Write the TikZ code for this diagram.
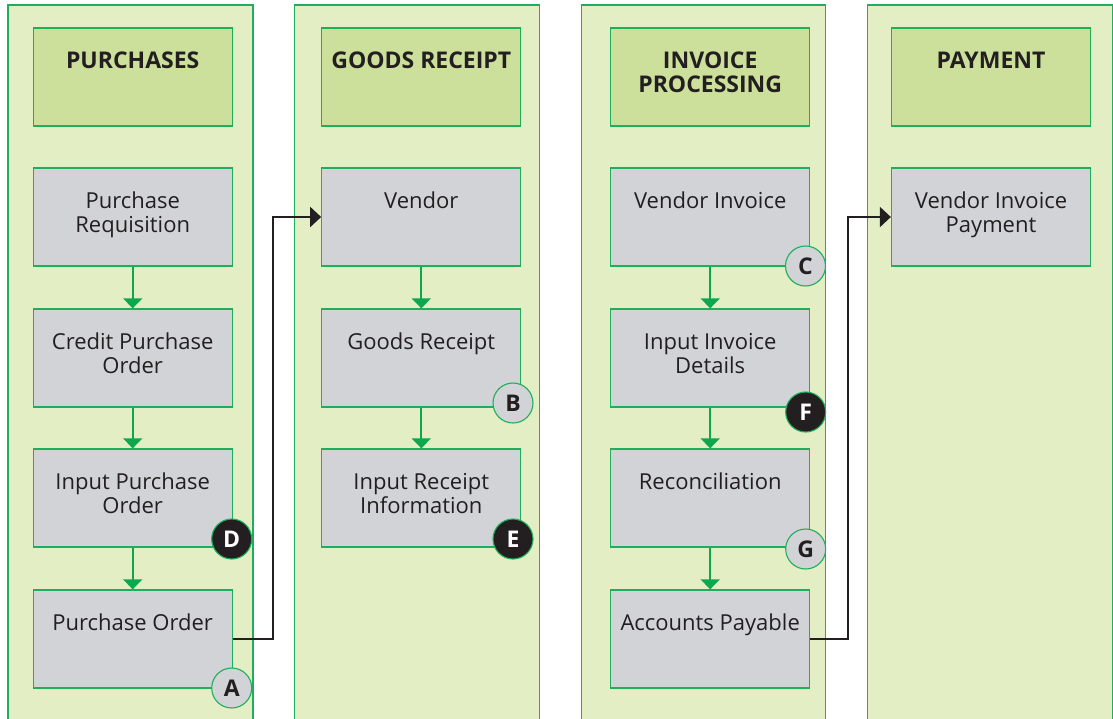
\documentclass[tikz,border=0pt]{standalone}
\usepackage{fontspec}
\setmainfont{Open Sans}
\usetikzlibrary{arrows.meta,calc}
\definecolor{lnGreen}{HTML}{1DAF5C}
\definecolor{flowGreen}{HTML}{0DA74F}
\definecolor{laneFill}{HTML}{E3EEC4}
\definecolor{headFill}{HTML}{CCE09B}
\definecolor{boxFill}{HTML}{D1D3D6}
\definecolor{ink}{HTML}{231F20}
\tikzset{
  lane/.style={draw=lnGreen, fill=laneFill, line width=1.3pt},
  headbox/.style={draw=lnGreen, fill=headFill, line width=1.3pt, minimum width=199pt, minimum height=98pt, inner sep=0pt},
  pbox/.style={draw=lnGreen, fill=boxFill, line width=1.3pt, minimum width=199pt, minimum height=98pt, inner sep=0pt},
  headtext/.style={font=\fontsize{23}{24}\selectfont\bfseries, text=ink, align=center, anchor=base, inner sep=0pt},
  boxtext/.style={font=\fontsize{22}{24}\selectfont, text=ink, align=center, anchor=base, inner sep=0pt},
  lightmark/.style={circle, draw=lnGreen, fill=boxFill, line width=1.1pt, minimum size=40pt, inner sep=0pt, font=\fontsize{23}{23}\selectfont\bfseries, text=ink},
  darkmark/.style={circle, draw=lnGreen, fill=ink, line width=1.1pt, minimum size=40pt, inner sep=0pt, font=\fontsize{23}{23}\selectfont\bfseries, text=white},
  flow/.style={draw=flowGreen, line width=2pt, -{Triangle[length=10pt, width=19pt]}},
  conn/.style={draw=ink, line width=2.2pt, -{Triangle[length=11pt, width=20pt]}},
}
\begin{document}
\begin{tikzpicture}[x=1pt, y=-1pt]
\useasboundingbox (0,0) rectangle (1113,718);
\fill[white] (0,0) rectangle (1113,718);
% lanes
\path[lane] (8,5) rectangle (253,730);
\path[lane] (294.6,5) rectangle (539.3,730);
\path[lane] (581.8,5) rectangle (825.6,730);
\path[lane] (867.4,5) rectangle (1112.5,730);
% headers
\node[headbox] (h1) at (132.7,77) {};
\node[headbox] (h2) at (421.3,77) {};
\node[headbox] (h3) at (710.2,77) {};
\node[headbox] (h4) at (991,77) {};
\node[headtext] (h1t) at (132.7,68) {PURCHASES};
\node[headtext] (h2t) at (421.3,68) {GOODS RECEIPT};
\node[headtext] (h3t) at (710.2,92) {INVOICE\\PROCESSING};
\node[headtext] (h4t) at (991,68) {PAYMENT};
% lane 1
\node[pbox] (pr) at (132.7,217) {};
\node[pbox] (cpo) at (132.7,358) {};
\node[pbox] (ipo) at (132.7,498) {};
\node[pbox] (po) at (132.7,639) {};
\node[boxtext] (prt) at (132.7,232) {Purchase\\Requisition};
\node[boxtext] (cpot) at (132.7,373) {Credit Purchase\\Order};
\node[boxtext] (ipot) at (132.7,513) {Input Purchase\\Order};
\node[boxtext] (pot) at (132.7,630) {Purchase Order};
% lane 2
\node[pbox] (ven) at (421.3,217) {};
\node[pbox] (gr) at (421.3,358) {};
\node[pbox] (iri) at (421.3,498) {};
\node[boxtext] (vent) at (421.3,208) {Vendor};
\node[boxtext] (grt) at (421.3,349) {Goods Receipt};
\node[boxtext] (irit) at (421.3,513) {Input Receipt\\Information};
% lane 3
\node[pbox] (vi) at (710.2,217) {};
\node[pbox] (iid) at (710.2,358) {};
\node[pbox] (rec) at (710.2,498) {};
\node[pbox] (ap) at (710.2,639) {};
\node[boxtext] (vit) at (710.2,208) {Vendor Invoice};
\node[boxtext] (iidt) at (710.2,373) {Input Invoice\\Details};
\node[boxtext] (rect) at (710.2,489) {Reconciliation};
\node[boxtext] (apt) at (710.2,630) {Accounts Payable};
% lane 4
\node[pbox] (vip) at (991,217) {};
\node[boxtext] (vipt) at (991,232) {Vendor Invoice\\Payment};
% flows
\draw[flow] (pr.south) -- (cpo.north);
\draw[flow] (cpo.south) -- (ipo.north);
\draw[flow] (ipo.south) -- (po.north);
\draw[flow] (ven.south) -- (gr.north);
\draw[flow] (gr.south) -- (iri.north);
\draw[flow] (vi.south) -- (iid.north);
\draw[flow] (iid.south) -- (rec.north);
\draw[flow] (rec.south) -- (ap.north);
% connectors
\draw[conn] (po.east) -- ++(40,0) |- (ven.west);
\draw[conn] (ap.east) -- ++(37.5,0) |- (vip.west);
% markers
\node[lightmark] (mA) at (231.7,688) {A};
\node[lightmark] (mB) at (513,403) {B};
\node[lightmark] (mC) at (805.5,266) {C};
\node[darkmark] (mD) at (231.7,539) {D};
\node[darkmark] (mE) at (513,539) {E};
\node[darkmark] (mF) at (805.7,412) {F};
\node[lightmark] (mG) at (805.7,549) {G};
\end{tikzpicture}
\end{document}
